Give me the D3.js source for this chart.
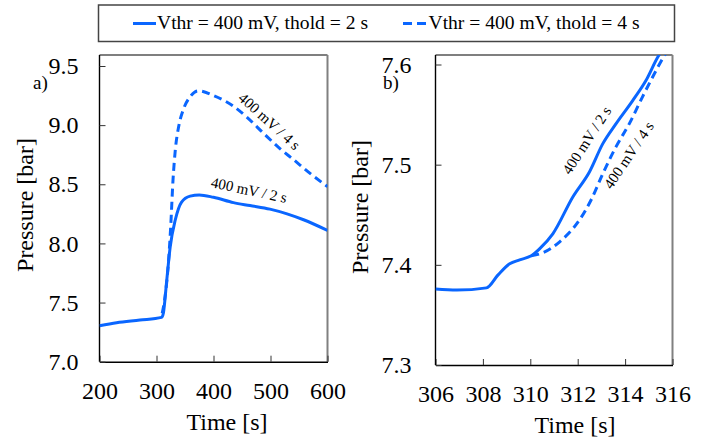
<!DOCTYPE html>
<html><head><meta charset="utf-8">
<script src="https://cdn.jsdelivr.net/npm/d3@7"></script>
<style>
html,body{margin:0;padding:0;background:#fff;}
svg{display:block;font-family:"Liberation Serif","Times New Roman",serif;}
</style></head>
<body>
<svg id="c" width="717" height="441"></svg>
<script>
// ---- data ----
const legendLabels = ["Vthr = 400 mV, thold = 2 s", "Vthr = 400 mV, thold = 4 s"];
const annotA = ["400 mV / 2 s", "400 mV / 4 s"];

// panel a)
const aTime2 = [200, 230, 271, 309, 312, 318, 324, 333, 344, 359, 375, 400, 435, 464, 499, 529, 558, 600];
const aP2    = [7.304, 7.33, 7.352, 7.375, 7.41, 7.69, 7.97, 8.20, 8.35, 8.40, 8.41, 8.39, 8.345, 8.32, 8.29, 8.25, 8.20, 8.11];
const aTime4 = [310, 315, 320, 325, 329, 333, 339, 347, 359, 373, 400, 435, 458, 488, 517, 540, 570, 600];
const aP4    = [7.41, 7.55, 7.78, 8.15, 8.54, 8.79, 8.99, 9.13, 9.24, 9.29, 9.25, 9.16, 9.07, 8.93, 8.80, 8.71, 8.59, 8.48];
const aXTicks = [200, 300, 400, 500, 600];
const aYTicks = [7.0, 7.5, 8.0, 8.5, 9.0, 9.5];

// panel b)
const bTime2 = [306, 306.9, 308.15, 308.64, 309.13, 309.55, 310.04, 310.39, 310.95, 311.8, 312.5, 313.06, 313.62, 314.32, 314.88, 315.42, 315.6];
const bP2    = [7.3758, 7.3748, 7.377, 7.390, 7.401, 7.405, 7.409, 7.416, 7.431, 7.468, 7.493, 7.521, 7.541, 7.564, 7.584, 7.609, 7.615];
const bTime4 = [310.04, 310.53, 311.24, 312.08, 312.57, 313.06, 313.62, 314.18, 314.74, 315.24, 315.66, 315.8];
const bP4    = [7.409, 7.412, 7.423, 7.445, 7.465, 7.491, 7.518, 7.541, 7.568, 7.591, 7.609, 7.614];
const bXTicks = [306, 308, 310, 312, 314, 316];
const bYTicks = [7.3, 7.4, 7.5, 7.6];

const BLUE = "#0a66ff";
const svg = d3.select("#c");

// ---- legend ----
const lg = svg.append("g");
lg.append("rect").attr("x", 98.5).attr("y", 5).attr("width", 576).attr("height", 36.5)
  .attr("fill", "#fff").attr("stroke", "#444").attr("stroke-width", 1.5);
lg.append("line").attr("x1", 133).attr("x2", 156).attr("y1", 23.5).attr("y2", 23.5)
  .attr("stroke", BLUE).attr("stroke-width", 3);
lg.append("line").attr("x1", 403).attr("x2", 427).attr("y1", 23.5).attr("y2", 23.5)
  .attr("stroke", BLUE).attr("stroke-width", 3).attr("stroke-dasharray", "9,5");
lg.append("text").attr("x", 157).attr("y", 29).attr("font-size", 19)
  .attr("textLength", 211).attr("lengthAdjust", "spacingAndGlyphs").text(legendLabels[0]);
lg.append("text").attr("x", 428.5).attr("y", 29).attr("font-size", 19)
  .attr("textLength", 211).attr("lengthAdjust", "spacingAndGlyphs").text(legendLabels[1]);

function panel(opt) {
  const g = svg.append("g");
  const x = d3.scaleLinear().domain(opt.xd).range(opt.xr);
  const y = d3.scaleLinear().domain(opt.yd).range(opt.yr);
  const top = opt.top;
  const clipId = "clip" + opt.id;
  svg.append("clipPath").attr("id", clipId).append("rect")
    .attr("x", opt.xr[0]).attr("y", top).attr("width", opt.xr[1] - opt.xr[0]).attr("height", opt.yr[0] - top);

  // frame top & right
  g.append("line").attr("x1", opt.xr[0]).attr("x2", opt.xr[1]).attr("y1", top).attr("y2", top)
    .attr("stroke", "#000").attr("stroke-width", 1.2);
  g.append("line").attr("x1", opt.xr[1]).attr("x2", opt.xr[1]).attr("y1", top).attr("y2", opt.yr[0])
    .attr("stroke", "#808080").attr("stroke-width", 2);

  const xa = g.append("g").attr("transform", `translate(0,${opt.yr[0]})`)
    .call(d3.axisBottom(x).tickValues(opt.xt).tickFormat(d3.format("d"))
      .tickSizeInner(-6).tickSizeOuter(0).tickPadding(20));
  const ya = g.append("g").attr("transform", `translate(${opt.xr[0]},0)`)
    .call(d3.axisLeft(y).tickValues(opt.yt).tickFormat(d3.format(".1f"))
      .tickSizeInner(-6).tickSizeOuter(0).tickPadding(opt.ypad));
  [xa, ya].forEach(a => {
    a.select(".domain").attr("stroke", "#000").attr("stroke-width", 1.4);
    a.selectAll(".tick line").attr("stroke", "#333").attr("stroke-width", 1);
    a.selectAll(".tick text").attr("font-family", "Liberation Serif, Times New Roman, serif")
      .attr("font-size", 24).attr("fill", "#000");
  });
  ya.select(".domain").attr("d", `M0,${opt.yr[0]}V${top}`);

  const line = d3.line().x(d => x(d[0])).y(d => y(d[1])).curve(d3.curveMonotoneX);
  const lines = g.append("g").attr("clip-path", `url(#${clipId})`);
  lines.append("path").datum(d3.zip(opt.t2, opt.p2)).attr("d", line)
    .attr("fill", "none").attr("stroke", BLUE).attr("stroke-width", 3);
  lines.append("path").datum(d3.zip(opt.t4, opt.p4)).attr("d", line)
    .attr("fill", "none").attr("stroke", BLUE).attr("stroke-width", 3).attr("stroke-dasharray", "8,5");

  // titles
  g.append("text").attr("x", opt.xTitleX).attr("y", opt.xTitleY).attr("text-anchor", "middle")
    .attr("font-size", 24).text("Time [s]");
  g.append("text").attr("transform", `translate(${opt.yTitleX},${opt.yTitleY}) rotate(-90)`)
    .attr("text-anchor", "middle").attr("font-size", 24).text("Pressure [bar]");
  g.append("text").attr("x", opt.tagX).attr("y", 89).attr("font-size", 19).text(opt.tag);

  opt.ann.forEach(a => {
    g.append("text").attr("transform", `translate(${a.x},${a.y}) rotate(${a.r})`)
      .attr("text-anchor", "middle").attr("font-size", 15).text(a.t);
  });
}

panel({
  id: "a", xd: [200, 600], xr: [99.5, 327.5], yd: [7.0, 9.5], yr: [361.7, 66], top: 55,
  xt: aXTicks, yt: aYTicks, ypad: 21,
  t2: aTime2, p2: aP2, t4: aTime4, p4: aP4,
  xTitleX: 227, xTitleY: 430, yTitleX: 33, yTitleY: 205, tagX: 33, tag: "a)",
  ann: [{t: annotA[1], x: 266, y: 125, r: 42}, {t: annotA[0], x: 248, y: 195, r: 12}]
});
panel({
  id: "b", xd: [306, 316], xr: [435.5, 672.5], yd: [7.3, 7.6], yr: [365, 64.5], top: 55,
  xt: bXTicks, yt: bYTicks, ypad: 24,
  t2: bTime2, p2: bP2, t4: bTime4, p4: bP4,
  xTitleX: 575, xTitleY: 433, yTitleX: 368, yTitleY: 207, tagX: 383, tag: "b)",
  ann: [{t: annotA[0], x: 591, y: 143, r: -57}, {t: annotA[1], x: 633, y: 158, r: -56}]
});
</script>
</body></html>
